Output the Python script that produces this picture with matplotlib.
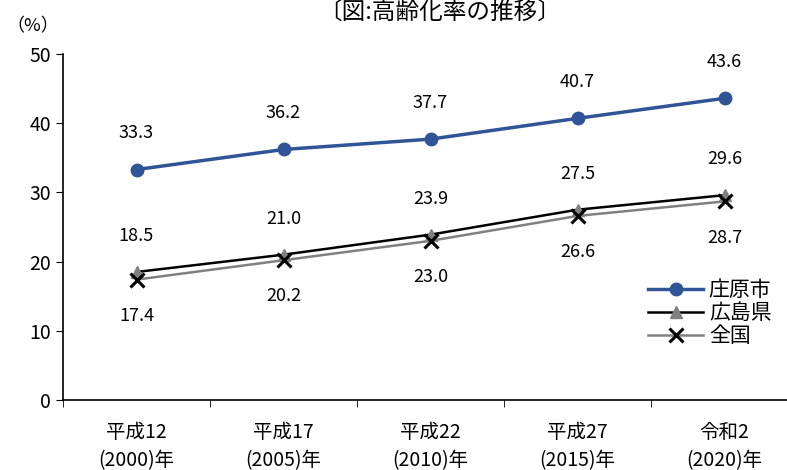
import matplotlib.pyplot as plt

plt.rcParams['font.family'] = ['Noto Sans CJK JP', 'DejaVu Sans']

# 年次と高齢化率(%)
years = ['平成12\n(2000)年', '平成17\n(2005)年', '平成22\n(2010)年', '平成27\n(2015)年', '令和2\n(2020)年']
shobara = [33.3, 36.2, 37.7, 40.7, 43.6]
hiroshima = [18.5, 21.0, 23.9, 27.5, 29.6]
zenkoku = [17.4, 20.2, 23.0, 26.6, 28.7]

fig = plt.figure(figsize=(7.87, 4.70), dpi=100)
ax = fig.add_axes([63 / 787, 70 / 470, 735 / 787, 346 / 470])

x = range(len(years))
ax.plot(x, shobara, color='#2F5597', lw=2.5, marker='o', ms=9, label='庄原市', zorder=3)
ax.plot(x, hiroshima, color='black', lw=1.8, marker='^', ms=9,
        mfc='#808080', mec='#808080', label='広島県', zorder=2)
ax.plot(x, zenkoku, color='#808080', lw=1.8, marker='x', ms=10,
        mec='black', mew=2.2, label='全国', zorder=2)

# 数値ラベル
for i in x:
    ax.annotate(f'{shobara[i]:.1f}', (i, shobara[i]), xytext=(0, 26), textcoords='offset points',
                ha='center', va='center', fontsize=13)
    ax.annotate(f'{hiroshima[i]:.1f}', (i, hiroshima[i]), xytext=(0, 26), textcoords='offset points',
                ha='center', va='center', fontsize=13)
    ax.annotate(f'{zenkoku[i]:.1f}', (i, zenkoku[i]), xytext=(0, -26), textcoords='offset points',
                ha='center', va='center', fontsize=13)

ax.set_xlim(-0.5, len(years) - 0.5)
ax.set_ylim(0, 50)
ax.set_yticks(range(0, 51, 10))
ax.set_xticks(x)
ax.set_xticklabels(years, fontsize=14, linespacing=1.45)
ax.set_xticks([i + 0.5 for i in range(-1, len(years))], minor=True)
ax.tick_params(axis='x', which='major', length=0, pad=16)
ax.tick_params(axis='x', which='minor', length=5, direction='out')
ax.tick_params(axis='y', labelsize=14, length=5, direction='out')

for s in ('top', 'right'):
    ax.spines[s].set_visible(False)
ax.spines['left'].set_linewidth(1.2)
ax.spines['bottom'].set_linewidth(1.2)

fig.text(0.008, 0.945, '（%）', fontsize=13, ha='left', va='center')
fig.text(440 / 787, 0.974, '〔図:高齢化率の推移〕', fontsize=17, ha='center', va='center')

ax.legend(loc='upper left', bbox_to_anchor=(575 / 735, 0.38), frameon=False,
          fontsize=15, handlelength=2.6, handletextpad=0.3, labelspacing=0.05,
          borderpad=0)

fig.savefig('out.png', dpi=100)
